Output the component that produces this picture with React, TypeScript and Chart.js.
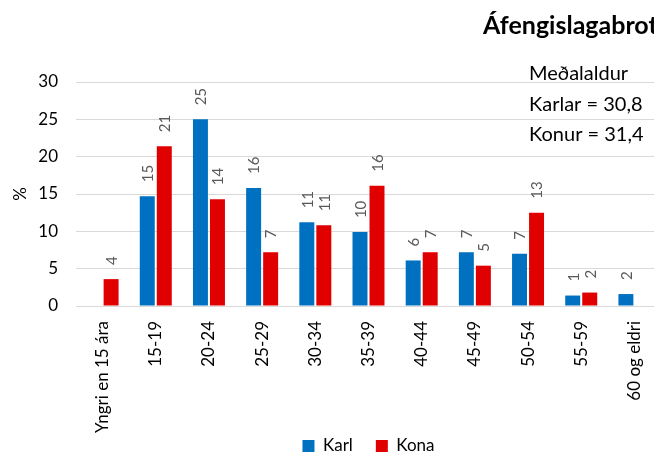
import React, { useEffect, useRef } from "react";
import { Chart, registerables } from "chart.js";

Chart.register(...registerables);

const categories = [
  "Yngri en 15 ára",
  "15-19",
  "20-24",
  "25-29",
  "30-34",
  "35-39",
  "40-44",
  "45-49",
  "50-54",
  "55-59",
  "60 og eldri",
];
const karl: (number | null)[] = [null, 14.7, 25.0, 15.8, 11.2, 9.9, 6.1, 7.2, 7.0, 1.4, 1.6];
const kona: (number | null)[] = [3.6, 21.4, 14.3, 7.2, 10.8, 16.1, 7.2, 5.4, 12.5, 1.8, null];
const seriesNames = ["Karl", "Kona"];
const seriesColors = ["#0070C0", "#E00000"];
const yTicks = [0, 5, 10, 15, 20, 25, 30];
const yTitle = "%";
const titleText = "Áfengislagabrot";
const noteLines = ["Meðalaldur", "Karlar = 30,8", "Konur = 31,4"];

const FONT = "Lato, 'Open Sans', sans-serif";
const LEGEND_CENTER_Y = 446;

const labelPlugin = {
  id: "barLabels",
  afterLayout(chart: any) {
    const lg = chart.legend;
    if (!lg) return;
    const pad = lg.options.labels.padding;
    const itemH = Math.max(lg.options.labels.boxHeight, lg.options.labels.font.size);
    const desiredTop = LEGEND_CENTER_Y - pad - itemH / 2;
    const d = desiredTop - lg.top;
    lg.top += d;
    lg.bottom += d;
  },
  afterDatasetsDraw(chart: any) {
    const ctx = chart.ctx;
    ctx.save();
    ctx.fillStyle = "#595959";
    ctx.font = `15px ${FONT}`;
    chart.data.datasets.forEach((ds: any, i: number) => {
      const meta = chart.getDatasetMeta(i);
      meta.data.forEach((bar: any, j: number) => {
        const v = ds.data[j];
        if (v === null || v === undefined) return;
        ctx.save();
        ctx.translate(bar.x + 1, bar.y - 14);
        ctx.rotate(-Math.PI / 2);
        ctx.textAlign = "left";
        ctx.textBaseline = "middle";
        ctx.fillText(String(Math.round(v)), 0, 0);
        ctx.restore();
      });
    });
    ctx.restore();
  },
  afterDraw(chart: any) {
    const ctx = chart.ctx;
    ctx.save();
    ctx.fillStyle = "#000000";
    ctx.textAlign = "left";
    ctx.textBaseline = "alphabetic";
    ctx.font = `bold 25px ${FONT}`;
    ctx.fillText(titleText, 483, 34);
    ctx.font = `20px ${FONT}`;
    const baselines = [80, 111, 141];
    noteLines.forEach((t, k) => ctx.fillText(t, 529, baselines[k]));
    ctx.restore();
  },
};

export default function App() {
  const ref = useRef<HTMLCanvasElement | null>(null);
  useEffect(() => {
    if (!ref.current) return;
    Chart.defaults.font.family = FONT;
    const chart = new Chart(ref.current, {
      type: "bar",
      data: {
        labels: categories,
        datasets: [
          {
            label: seriesNames[0],
            data: karl,
            backgroundColor: seriesColors[0],
            categoryPercentage: 0.64,
            barPercentage: 0.88,
          },
          {
            label: seriesNames[1],
            data: kona,
            backgroundColor: seriesColors[1],
            categoryPercentage: 0.64,
            barPercentage: 0.88,
          },
        ],
      },
      options: {
        responsive: false,
        animation: false,
        layout: { padding: { top: 82, right: 19, left: 0, bottom: 0 } },
        plugins: {
          tooltip: { enabled: false },
          legend: {
            position: "bottom",
            fullSize: false,
            labels: {
              boxWidth: 12,
              boxHeight: 12,
              padding: 23,
              color: "#000000",
              font: { size: 17, family: FONT },
            },
          },
        },
        scales: {
          x: {
            grid: { display: false, drawTicks: false },
            border: { display: false },
            ticks: {
              minRotation: 90,
              maxRotation: 90,
              autoSkip: false,
              padding: 15,
              color: "#000000",
              font: { size: 17, family: FONT },
            },
            afterFit(scale: any) {
              scale.height = 140;
            },
          },
          y: {
            min: 0,
            max: 30,
            afterBuildTicks(scale: any) {
              scale.ticks = yTicks.map((v) => ({ value: v }));
            },
            grid: { color: "#d9d9d9", lineWidth: 1, drawTicks: false },
            border: { display: false },
            ticks: {
              padding: 18,
              color: "#000000",
              font: { size: 17, family: FONT },
            },
            title: {
              display: true,
              text: yTitle,
              color: "#000000",
              font: { size: 17, family: FONT },
              padding: { top: 10, bottom: 0 },
            },
            afterFit(scale: any) {
              scale.width = 76;
            },
          },
        },
      },
      plugins: [labelPlugin],
    });
    return () => chart.destroy();
  }, []);
  return (
    <div
      style={{
        position: "fixed",
        left: 0,
        top: 0,
        width: 654,
        height: 455,
        overflow: "hidden",
        background: "#ffffff",
      }}
    >
      <canvas ref={ref} width={680} height={496} style={{ display: "block" }} />
    </div>
  );
}
